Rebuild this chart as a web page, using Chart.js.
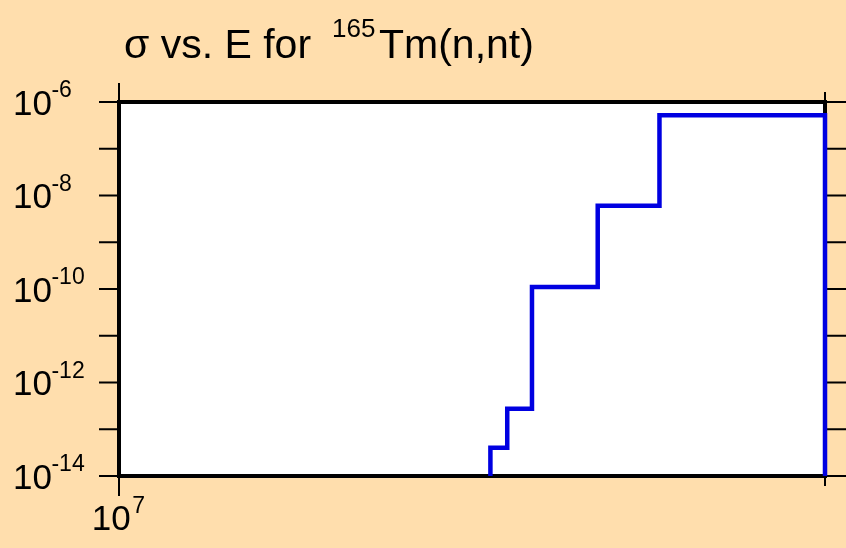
<!DOCTYPE html>
<html>
<head>
<meta charset="utf-8">
<script src="https://cdn.jsdelivr.net/npm/chart.js@4/dist/chart.umd.min.js"></script>
<style>
  html, body { margin: 0; padding: 0; background: #FFDEAD; }
  canvas { display: block; }
</style>
</head>
<body>
<canvas id="xsChart" width="846" height="548"></canvas>
<script>
// 165Tm(n,nt) cross section, histogram steps (energy in eV, sigma in barns)
const energy = [1.44e7, 1.44e7, 1.464e7, 1.5e7, 1.6e7, 1.7e7, 2e7, 2e7];
const sigma = [1e-14, 4.0e-14, 2.75e-13, 1.1e-10, 6.05e-9, 5.2e-7, 5.2e-7, 1e-14];

// axis ranges and ticks
const xRange = [1e7, 2e7];
const yRange = [1e-14, 1e-6];
const xMajorTicks = [1e7];
const xMinorTicks = [2e7];
const xLabelPowers = [7];
const yTickPowers = [-14, -13, -12, -11, -10, -9, -8, -7, -6];
const yLabelPowers = [-6, -8, -10, -12, -14];

const bg = '#FFDEAD';
const FONT = 'Arial, "Liberation Sans", Helvetica, sans-serif';
const MANT = 35;   // "10" size
const EXP = 23;    // exponent size

const points = energy.map((e, i) => ({ x: e, y: sigma[i] }));

// draws text with its ink starting at left; returns ink right edge
function inkText(ctx, text, size, left, baseline) {
  ctx.font = size + 'px ' + FONT;
  const m = ctx.measureText(text);
  ctx.fillText(text, left + m.actualBoundingBoxLeft, baseline);
  return left + m.actualBoundingBoxLeft + m.actualBoundingBoxRight;
}

function inkWidth(ctx, text, size) {
  ctx.font = size + 'px ' + FONT;
  const m = ctx.measureText(text);
  return m.actualBoundingBoxLeft + m.actualBoundingBoxRight;
}

const framePlugin = {
  id: 'frame',
  beforeDraw(chart) {
    const { ctx, chartArea: a } = chart;
    ctx.save();
    ctx.fillStyle = bg;
    ctx.fillRect(0, 0, chart.width, chart.height);
    ctx.fillStyle = '#ffffff';
    ctx.fillRect(a.left, a.top, a.right - a.left, a.bottom - a.top);
    ctx.restore();
  },
  beforeDatasetsDraw(chart) {
    const { ctx, chartArea: a, scales } = chart;
    const xs = scales.x, ys = scales.y;
    ctx.save();
    ctx.strokeStyle = '#000';
    ctx.lineWidth = 4;
    ctx.strokeRect(a.left, a.top, a.right - a.left, a.bottom - a.top);

    // decade ticks on left and right, outside the frame
    ctx.lineWidth = 2;
    ctx.beginPath();
    yTickPowers.forEach(p => {
      const y = ys.getPixelForValue(Math.pow(10, p));
      ctx.moveTo(a.left - 20, y); ctx.lineTo(a.left, y);
      ctx.moveTo(a.right, y); ctx.lineTo(a.right + 22, y);
    });
    xMajorTicks.forEach(v => {
      const x = xs.getPixelForValue(v);
      ctx.moveTo(x, a.top - 19); ctx.lineTo(x, a.top);
      ctx.moveTo(x, a.bottom); ctx.lineTo(x, a.bottom + 20);
    });
    xMinorTicks.forEach(v => {
      const x = xs.getPixelForValue(v);
      ctx.moveTo(x, a.top - 10); ctx.lineTo(x, a.top);
      ctx.moveTo(x, a.bottom); ctx.lineTo(x, a.bottom + 10);
    });
    ctx.stroke();
    ctx.restore();
  },
  afterDraw(chart) {
    const { ctx, scales } = chart;
    const xs = scales.x, ys = scales.y;
    ctx.save();
    ctx.fillStyle = '#000';
    ctx.textBaseline = 'alphabetic';
    ctx.textAlign = 'left';

    // title: sigma vs. E for ^165Tm(n,nt)
    inkText(ctx, 'σ vs. E for', 41, 125, 58);
    inkText(ctx, '165', 26, 333, 37);
    inkText(ctx, 'Tm(n,nt)', 41, 379, 58);

    yLabelPowers.forEach(p => {
      const y = ys.getPixelForValue(Math.pow(10, p));
      const r = inkText(ctx, '10', MANT, 15, y + 12.5);
      inkText(ctx, String(p), EXP, r + 1, y - 5);
    });

    xLabelPowers.forEach(p => {
      const x = xs.getPixelForValue(Math.pow(10, p));
      const w = inkWidth(ctx, '10', MANT) + 3 + inkWidth(ctx, String(p), EXP);
      const r = inkText(ctx, '10', MANT, x - w / 2, 530);
      inkText(ctx, String(p), EXP, r + 3, 513);
    });
    ctx.restore();
  }
};

new Chart(document.getElementById('xsChart'), {
  type: 'scatter',
  data: {
    datasets: [{
      data: points,
      showLine: true,
      stepped: 'before',
      borderColor: 'rgb(0, 0, 225)',
      borderWidth: 4.5,
      pointRadius: 0,
      fill: false,
      clip: 4
    }]
  },
  options: {
    responsive: false,
    animation: false,
    layout: { padding: { left: 119, top: 102, right: 21, bottom: 72 } },
    plugins: {
      legend: { display: false },
      title: { display: false },
      tooltip: { enabled: false }
    },
    scales: {
      x: { type: 'logarithmic', min: xRange[0], max: xRange[1], display: false },
      y: { type: 'logarithmic', min: yRange[0], max: yRange[1], display: false }
    }
  },
  plugins: [framePlugin]
});
</script>
</body>
</html>
